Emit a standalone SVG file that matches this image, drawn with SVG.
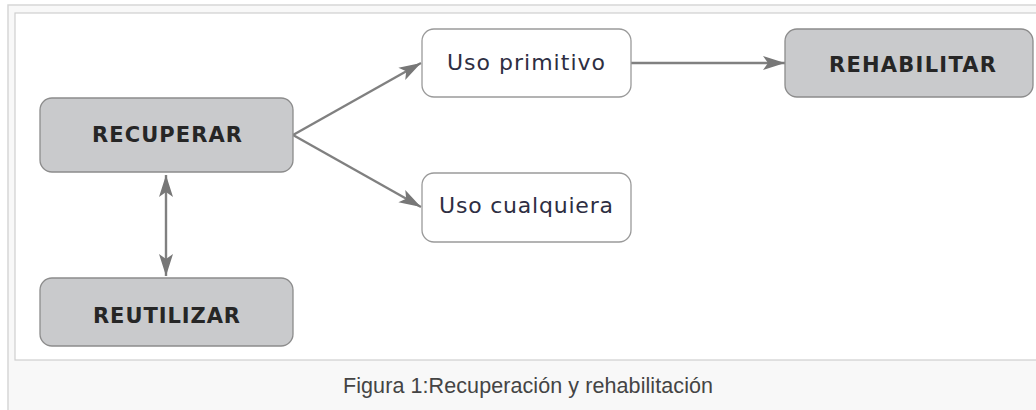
<svg xmlns="http://www.w3.org/2000/svg" width="1036" height="410" viewBox="0 0 1036 410">
  <style>
    .frame-outer { fill: #f8f8f8; stroke: #d6d6d6; stroke-width: 1.5; }
    .frame-inner { fill: #ffffff; stroke: #cfcfcf; stroke-width: 1.2; }
    .gray { fill: #c9cacc; stroke: #8c8c8c; stroke-width: 1.3; }
    .white { fill: #ffffff; stroke: #9a9a9a; stroke-width: 1.3; }
    .bold { font-family: "DejaVu Sans", "Liberation Sans", sans-serif; font-weight: bold; font-size: 21px; fill: #262626; text-anchor: middle; }
    .reg { font-family: "DejaVu Sans", "Liberation Sans", sans-serif; font-size: 22px; fill: #2e2e42; text-anchor: middle; }
    .cap { font-family: "Liberation Sans", Arial, sans-serif; font-size: 21.5px; fill: #444444; text-anchor: middle; }
    .conn { stroke: #808080; stroke-width: 2.4; fill: none; }
  </style>
  <defs>
    <marker id="arr" markerUnits="userSpaceOnUse" markerWidth="24" markerHeight="16" refX="22" refY="7" orient="auto-start-reverse" viewBox="0 0 24 14">
      <path d="M0,0 L22,7 L0,14 L5,7 z" fill="#777777"/>
    </marker>
  </defs>
  <rect width="1036" height="410" fill="#ffffff"/>
  <rect class="frame-outer" x="8" y="5" width="1040" height="420"/>
  <rect class="frame-inner" x="15" y="13" width="1030" height="347"/>

  <g id="connectors">
    <line class="conn" x1="293" y1="135" x2="421" y2="63" marker-end="url(#arr)"/>
    <line class="conn" x1="293" y1="135" x2="421" y2="207" marker-end="url(#arr)"/>
    <line class="conn" x1="631" y1="63" x2="785" y2="63" marker-end="url(#arr)"/>
    <line class="conn" x1="166" y1="175" x2="166" y2="276" marker-start="url(#arr)" marker-end="url(#arr)"/>
  </g>

  <g id="recuperar">
    <rect class="gray" x="40" y="98" width="253" height="74" rx="12"/>
    <text class="bold" x="167" y="141.5" textLength="150" lengthAdjust="spacing">RECUPERAR</text>
  </g>
  <g id="reutilizar">
    <rect class="gray" x="40" y="278" width="253" height="68" rx="12"/>
    <text class="bold" x="166.5" y="322.5" textLength="147" lengthAdjust="spacing">REUTILIZAR</text>
  </g>
  <g id="uso-primitivo">
    <rect class="white" x="422" y="29" width="209" height="68" rx="12"/>
    <text class="reg" x="526" y="70" textLength="158" lengthAdjust="spacing">Uso primitivo</text>
  </g>
  <g id="uso-cualquiera">
    <rect class="white" x="422" y="173" width="209" height="69" rx="12"/>
    <text class="reg" x="526" y="213" textLength="174" lengthAdjust="spacing">Uso cualquiera</text>
  </g>
  <g id="rehabilitar">
    <rect class="gray" x="785" y="29" width="248" height="68" rx="12"/>
    <text class="bold" x="912.5" y="71.5" textLength="167" lengthAdjust="spacing">REHABILITAR</text>
  </g>

  <text class="cap" x="528" y="392.5" textLength="370" lengthAdjust="spacing">Figura 1:Recuperación y rehabilitación</text>
</svg>
